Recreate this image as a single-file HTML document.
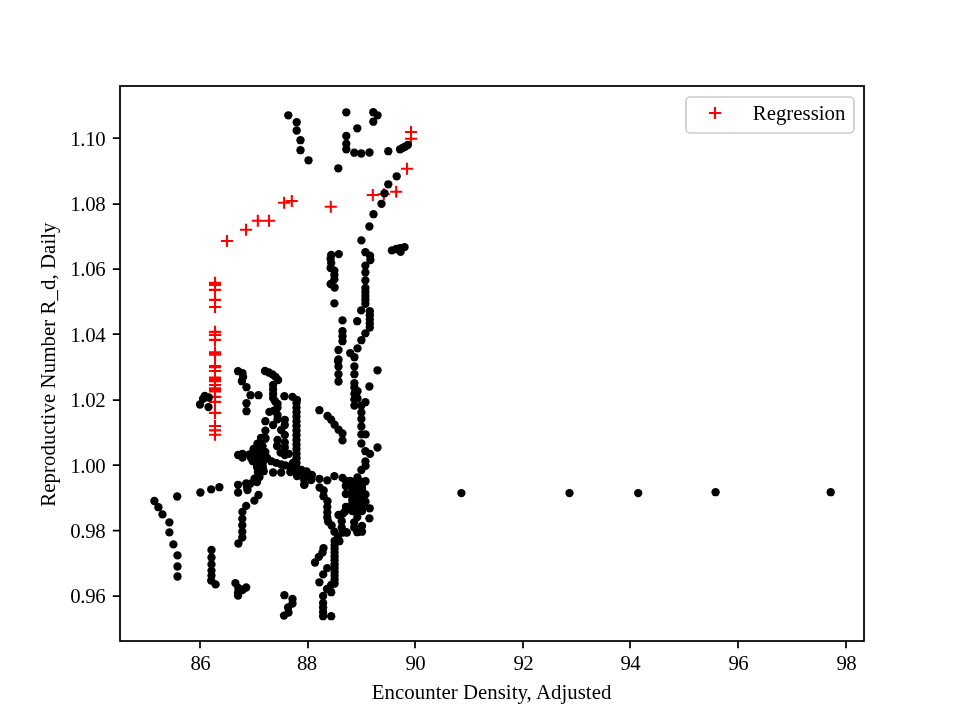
<!DOCTYPE html><html><head><meta charset="utf-8"><title>plot</title><style>html,body{margin:0;padding:0;background:#fff}svg{display:block}text{font-family:"Liberation Serif","DejaVu Serif",serif;font-size:20.83px;fill:#000}</style></head><body>
<svg width="960" height="720" viewBox="0 0 960 720">
<rect width="960" height="720" fill="#fff"/>
<g stroke="#f00" stroke-width="2.08" fill="none">
<path d="M404.95 132.0h12.1M411.0 125.95v12.1M404.95 138.8h12.1M411.0 132.75v12.1M400.95 168.8h12.1M407.0 162.75v12.1M390.15 191.7h12.1M396.2 185.65v12.1M377.75 194.2h12.1M383.8 188.15v12.1M366.75 195.0h12.1M372.8 188.95v12.1M324.75 206.8h12.1M330.8 200.75v12.1M285.75 201.0h12.1M291.8 194.95v12.1M278.05 202.8h12.1M284.1 196.75v12.1M262.95 220.8h12.1M269.0 214.75v12.1M251.75 220.8h12.1M257.8 214.75v12.1M239.95 229.7h12.1M246.0 223.65v12.1M220.95 241.0h12.1M227.0 234.95v12.1M208.95 282.9h12.1M215.0 276.85v12.1M208.95 284.9h12.1M215.0 278.85v12.1M208.95 289.9h12.1M215.0 283.85v12.1M208.95 299.9h12.1M215.0 293.85v12.1M208.95 307.0h12.1M215.0 300.95v12.1M208.95 331.9h12.1M215.0 325.85v12.1M208.95 334.9h12.1M215.0 328.85v12.1M208.95 339.9h12.1M215.0 333.85v12.1M208.95 352.2h12.1M215.0 346.15v12.1M208.95 353.5h12.1M215.0 347.45v12.1M208.95 354.8h12.1M215.0 348.75v12.1M208.95 366.0h12.1M215.0 359.95v12.1M208.95 367.2h12.1M215.0 361.15v12.1M208.95 371.0h12.1M215.0 364.95v12.1M208.95 377.5h12.1M215.0 371.45v12.1M208.95 379.5h12.1M215.0 373.45v12.1M208.95 381.2h12.1M215.0 375.15v12.1M208.95 385.0h12.1M215.0 378.95v12.1M208.95 388.2h12.1M215.0 382.15v12.1M208.95 390.0h12.1M215.0 383.95v12.1M208.95 391.5h12.1M215.0 385.45v12.1M208.95 396.9h12.1M215.0 390.85v12.1M208.95 401.9h12.1M215.0 395.85v12.1M208.95 412.9h12.1M215.0 406.85v12.1M208.95 426.0h12.1M215.0 419.95v12.1M208.95 430.4h12.1M215.0 424.35v12.1M208.95 434.8h12.1M215.0 428.70v12.1"/>
</g>
<g fill="#000">
<circle cx="288.3" cy="115.3" r="4.17"/>
<circle cx="296.7" cy="122.2" r="4.17"/>
<circle cx="296.7" cy="130.5" r="4.17"/>
<circle cx="300.5" cy="140.2" r="4.17"/>
<circle cx="300.5" cy="150.2" r="4.17"/>
<circle cx="308.5" cy="160.3" r="4.17"/>
<circle cx="338.3" cy="168.3" r="4.17"/>
<circle cx="346.3" cy="112.3" r="4.17"/>
<circle cx="346.3" cy="136.0" r="4.17"/>
<circle cx="346.3" cy="143.7" r="4.17"/>
<circle cx="346.3" cy="149.3" r="4.17"/>
<circle cx="354.3" cy="152.7" r="4.17"/>
<circle cx="361.3" cy="153.5" r="4.17"/>
<circle cx="369.5" cy="152.5" r="4.17"/>
<circle cx="357.3" cy="128.3" r="4.17"/>
<circle cx="373.3" cy="112.2" r="4.17"/>
<circle cx="377.5" cy="115.3" r="4.17"/>
<circle cx="373.3" cy="121.7" r="4.17"/>
<circle cx="388.3" cy="151.2" r="4.17"/>
<circle cx="400.0" cy="149.3" r="4.17"/>
<circle cx="402.5" cy="148.0" r="4.17"/>
<circle cx="405.0" cy="146.7" r="4.17"/>
<circle cx="407.8" cy="145.0" r="4.17"/>
<circle cx="396.7" cy="176.3" r="4.17"/>
<circle cx="388.3" cy="184.3" r="4.17"/>
<circle cx="384.5" cy="193.3" r="4.17"/>
<circle cx="381.5" cy="203.8" r="4.17"/>
<circle cx="373.5" cy="214.2" r="4.17"/>
<circle cx="369.4" cy="226.5" r="4.17"/>
<circle cx="361.4" cy="240.4" r="4.17"/>
<circle cx="365.4" cy="252.2" r="4.17"/>
<circle cx="370.0" cy="255.6" r="4.17"/>
<circle cx="370.4" cy="260.0" r="4.17"/>
<circle cx="365.4" cy="265.6" r="4.17"/>
<circle cx="365.4" cy="272.5" r="4.17"/>
<circle cx="365.4" cy="280.4" r="4.17"/>
<circle cx="365.4" cy="288.0" r="4.17"/>
<circle cx="365.4" cy="291.9" r="4.17"/>
<circle cx="365.4" cy="295.9" r="4.17"/>
<circle cx="365.4" cy="299.8" r="4.17"/>
<circle cx="365.4" cy="303.8" r="4.17"/>
<circle cx="338.8" cy="254.1" r="4.17"/>
<circle cx="331.2" cy="255.0" r="4.17"/>
<circle cx="330.6" cy="258.8" r="4.17"/>
<circle cx="331.2" cy="263.1" r="4.17"/>
<circle cx="330.6" cy="268.1" r="4.17"/>
<circle cx="334.4" cy="270.6" r="4.17"/>
<circle cx="334.4" cy="275.0" r="4.17"/>
<circle cx="334.4" cy="279.4" r="4.17"/>
<circle cx="330.6" cy="284.0" r="4.17"/>
<circle cx="334.6" cy="287.5" r="4.17"/>
<circle cx="391.9" cy="250.4" r="4.17"/>
<circle cx="396.2" cy="249.0" r="4.17"/>
<circle cx="400.0" cy="248.1" r="4.17"/>
<circle cx="404.6" cy="247.1" r="4.17"/>
<circle cx="400.6" cy="251.9" r="4.17"/>
<circle cx="334.4" cy="303.4" r="4.17"/>
<circle cx="361.2" cy="310.4" r="4.17"/>
<circle cx="369.8" cy="311.2" r="4.17"/>
<circle cx="369.8" cy="315.3" r="4.17"/>
<circle cx="369.8" cy="319.4" r="4.17"/>
<circle cx="369.8" cy="323.4" r="4.17"/>
<circle cx="369.8" cy="327.5" r="4.17"/>
<circle cx="365.4" cy="333.4" r="4.17"/>
<circle cx="361.4" cy="340.2" r="4.17"/>
<circle cx="357.5" cy="348.4" r="4.17"/>
<circle cx="350.2" cy="353.1" r="4.17"/>
<circle cx="354.4" cy="357.2" r="4.17"/>
<circle cx="354.4" cy="366.5" r="4.17"/>
<circle cx="354.4" cy="374.2" r="4.17"/>
<circle cx="357.2" cy="321.2" r="4.17"/>
<circle cx="342.5" cy="320.4" r="4.17"/>
<circle cx="342.5" cy="331.2" r="4.17"/>
<circle cx="342.5" cy="336.2" r="4.17"/>
<circle cx="342.5" cy="341.2" r="4.17"/>
<circle cx="338.5" cy="350.0" r="4.17"/>
<circle cx="338.5" cy="359.4" r="4.17"/>
<circle cx="338.5" cy="366.5" r="4.17"/>
<circle cx="338.5" cy="374.2" r="4.17"/>
<circle cx="338.5" cy="381.5" r="4.17"/>
<circle cx="377.5" cy="370.3" r="4.17"/>
<circle cx="354.4" cy="383.1" r="4.17"/>
<circle cx="354.4" cy="387.5" r="4.17"/>
<circle cx="357.5" cy="391.2" r="4.17"/>
<circle cx="354.4" cy="393.8" r="4.17"/>
<circle cx="357.5" cy="398.5" r="4.17"/>
<circle cx="354.4" cy="399.4" r="4.17"/>
<circle cx="354.4" cy="405.6" r="4.17"/>
<circle cx="365.4" cy="402.2" r="4.17"/>
<circle cx="361.4" cy="405.6" r="4.17"/>
<circle cx="361.4" cy="412.5" r="4.17"/>
<circle cx="361.4" cy="419.0" r="4.17"/>
<circle cx="361.4" cy="426.5" r="4.17"/>
<circle cx="361.4" cy="434.4" r="4.17"/>
<circle cx="365.6" cy="434.4" r="4.17"/>
<circle cx="361.4" cy="443.5" r="4.17"/>
<circle cx="365.4" cy="451.2" r="4.17"/>
<circle cx="370.0" cy="453.9" r="4.17"/>
<circle cx="377.5" cy="447.5" r="4.17"/>
<circle cx="369.4" cy="386.5" r="4.17"/>
<circle cx="319.4" cy="410.2" r="4.17"/>
<circle cx="327.5" cy="416.0" r="4.17"/>
<circle cx="331.2" cy="419.7" r="4.17"/>
<circle cx="334.6" cy="424.7" r="4.17"/>
<circle cx="338.6" cy="429.7" r="4.17"/>
<circle cx="342.5" cy="433.5" r="4.17"/>
<circle cx="342.5" cy="440.4" r="4.17"/>
<circle cx="365.4" cy="461.5" r="4.17"/>
<circle cx="365.6" cy="465.9" r="4.17"/>
<circle cx="361.4" cy="470.0" r="4.17"/>
<circle cx="357.5" cy="477.5" r="4.17"/>
<circle cx="365.5" cy="481.2" r="4.17"/>
<circle cx="334.4" cy="476.1" r="4.17"/>
<circle cx="327.3" cy="480.3" r="4.17"/>
<circle cx="319.4" cy="478.8" r="4.17"/>
<circle cx="311.9" cy="475.0" r="4.17"/>
<circle cx="311.2" cy="480.0" r="4.17"/>
<circle cx="307.3" cy="475.0" r="4.17"/>
<circle cx="301.5" cy="470.0" r="4.17"/>
<circle cx="304.2" cy="484.8" r="4.17"/>
<circle cx="342.6" cy="477.9" r="4.17"/>
<circle cx="346.2" cy="481.2" r="4.17"/>
<circle cx="350.2" cy="481.0" r="4.17"/>
<circle cx="345.8" cy="486.0" r="4.17"/>
<circle cx="345.8" cy="494.0" r="4.17"/>
<circle cx="365.5" cy="494.4" r="4.17"/>
<circle cx="365.5" cy="501.8" r="4.17"/>
<circle cx="369.7" cy="508.3" r="4.17"/>
<circle cx="361.4" cy="510.4" r="4.17"/>
<circle cx="369.4" cy="518.4" r="4.17"/>
<circle cx="346.0" cy="506.8" r="4.17"/>
<circle cx="338.5" cy="515.0" r="4.17"/>
<circle cx="342.6" cy="513.9" r="4.17"/>
<circle cx="319.6" cy="487.5" r="4.17"/>
<circle cx="323.7" cy="490.5" r="4.17"/>
<circle cx="323.5" cy="496.2" r="4.17"/>
<circle cx="327.5" cy="501.2" r="4.17"/>
<circle cx="327.3" cy="506.9" r="4.17"/>
<circle cx="327.3" cy="512.5" r="4.17"/>
<circle cx="327.3" cy="517.5" r="4.17"/>
<circle cx="328.1" cy="521.5" r="4.17"/>
<circle cx="331.6" cy="525.5" r="4.17"/>
<circle cx="334.4" cy="531.7" r="4.17"/>
<circle cx="338.0" cy="536.9" r="4.17"/>
<circle cx="341.7" cy="521.2" r="4.17"/>
<circle cx="341.7" cy="527.5" r="4.17"/>
<circle cx="345.8" cy="532.2" r="4.17"/>
<circle cx="357.3" cy="517.1" r="4.17"/>
<circle cx="354.2" cy="522.3" r="4.17"/>
<circle cx="354.2" cy="527.5" r="4.17"/>
<circle cx="362.0" cy="526.0" r="4.17"/>
<circle cx="362.0" cy="531.7" r="4.17"/>
<circle cx="357.3" cy="532.2" r="4.17"/>
<circle cx="352.3" cy="482.0" r="4.17"/>
<circle cx="352.3" cy="485.6" r="4.17"/>
<circle cx="352.3" cy="489.2" r="4.17"/>
<circle cx="352.3" cy="492.9" r="4.17"/>
<circle cx="352.3" cy="496.5" r="4.17"/>
<circle cx="352.3" cy="500.1" r="4.17"/>
<circle cx="352.3" cy="503.8" r="4.17"/>
<circle cx="352.3" cy="507.4" r="4.17"/>
<circle cx="352.3" cy="511.0" r="4.17"/>
<circle cx="355.5" cy="482.0" r="4.17"/>
<circle cx="355.5" cy="485.6" r="4.17"/>
<circle cx="355.5" cy="489.2" r="4.17"/>
<circle cx="355.5" cy="492.9" r="4.17"/>
<circle cx="355.5" cy="496.5" r="4.17"/>
<circle cx="355.5" cy="500.1" r="4.17"/>
<circle cx="355.5" cy="503.8" r="4.17"/>
<circle cx="355.5" cy="507.4" r="4.17"/>
<circle cx="355.5" cy="511.0" r="4.17"/>
<circle cx="358.7" cy="482.0" r="4.17"/>
<circle cx="358.7" cy="485.6" r="4.17"/>
<circle cx="358.7" cy="489.2" r="4.17"/>
<circle cx="358.7" cy="492.9" r="4.17"/>
<circle cx="358.7" cy="496.5" r="4.17"/>
<circle cx="358.7" cy="500.1" r="4.17"/>
<circle cx="358.7" cy="503.8" r="4.17"/>
<circle cx="358.7" cy="507.4" r="4.17"/>
<circle cx="358.7" cy="511.0" r="4.17"/>
<circle cx="362.0" cy="482.0" r="4.17"/>
<circle cx="362.0" cy="485.6" r="4.17"/>
<circle cx="362.0" cy="489.2" r="4.17"/>
<circle cx="362.0" cy="492.9" r="4.17"/>
<circle cx="362.0" cy="496.5" r="4.17"/>
<circle cx="362.0" cy="500.1" r="4.17"/>
<circle cx="362.0" cy="503.8" r="4.17"/>
<circle cx="362.0" cy="507.4" r="4.17"/>
<circle cx="362.0" cy="511.0" r="4.17"/>
<circle cx="334.6" cy="541.0" r="4.17"/>
<circle cx="334.6" cy="544.9" r="4.17"/>
<circle cx="334.6" cy="548.7" r="4.17"/>
<circle cx="334.6" cy="552.6" r="4.17"/>
<circle cx="334.6" cy="556.5" r="4.17"/>
<circle cx="334.6" cy="560.3" r="4.17"/>
<circle cx="334.6" cy="564.2" r="4.17"/>
<circle cx="334.6" cy="568.0" r="4.17"/>
<circle cx="334.6" cy="571.9" r="4.17"/>
<circle cx="334.6" cy="575.8" r="4.17"/>
<circle cx="334.6" cy="579.6" r="4.17"/>
<circle cx="334.6" cy="583.5" r="4.17"/>
<circle cx="339.4" cy="541.2" r="4.17"/>
<circle cx="342.5" cy="532.5" r="4.17"/>
<circle cx="346.9" cy="532.5" r="4.17"/>
<circle cx="323.5" cy="548.1" r="4.17"/>
<circle cx="322.5" cy="552.5" r="4.17"/>
<circle cx="318.8" cy="556.9" r="4.17"/>
<circle cx="315.0" cy="562.5" r="4.17"/>
<circle cx="327.2" cy="568.1" r="4.17"/>
<circle cx="323.2" cy="574.4" r="4.17"/>
<circle cx="319.4" cy="582.3" r="4.17"/>
<circle cx="331.2" cy="585.0" r="4.17"/>
<circle cx="327.0" cy="589.0" r="4.17"/>
<circle cx="331.2" cy="592.2" r="4.17"/>
<circle cx="323.1" cy="596.0" r="4.17"/>
<circle cx="323.1" cy="603.0" r="4.17"/>
<circle cx="323.1" cy="607.5" r="4.17"/>
<circle cx="323.1" cy="611.9" r="4.17"/>
<circle cx="323.1" cy="616.2" r="4.17"/>
<circle cx="331.2" cy="616.2" r="4.17"/>
<circle cx="284.4" cy="595.2" r="4.17"/>
<circle cx="292.5" cy="599.0" r="4.17"/>
<circle cx="292.5" cy="603.5" r="4.17"/>
<circle cx="288.1" cy="607.5" r="4.17"/>
<circle cx="288.5" cy="612.5" r="4.17"/>
<circle cx="284.0" cy="615.6" r="4.17"/>
<circle cx="204.8" cy="396.0" r="4.17"/>
<circle cx="208.8" cy="397.5" r="4.17"/>
<circle cx="203.1" cy="398.8" r="4.17"/>
<circle cx="200.0" cy="404.5" r="4.17"/>
<circle cx="208.5" cy="407.1" r="4.17"/>
<circle cx="238.1" cy="371.2" r="4.17"/>
<circle cx="242.5" cy="373.1" r="4.17"/>
<circle cx="243.1" cy="376.9" r="4.17"/>
<circle cx="241.9" cy="381.2" r="4.17"/>
<circle cx="246.5" cy="387.2" r="4.17"/>
<circle cx="250.5" cy="395.2" r="4.17"/>
<circle cx="258.5" cy="395.2" r="4.17"/>
<circle cx="246.5" cy="403.2" r="4.17"/>
<circle cx="246.5" cy="411.2" r="4.17"/>
<circle cx="265.0" cy="371.0" r="4.17"/>
<circle cx="268.8" cy="372.5" r="4.17"/>
<circle cx="272.5" cy="374.4" r="4.17"/>
<circle cx="275.6" cy="376.9" r="4.17"/>
<circle cx="278.1" cy="380.0" r="4.17"/>
<circle cx="273.1" cy="385.0" r="4.17"/>
<circle cx="273.1" cy="389.4" r="4.17"/>
<circle cx="273.1" cy="393.8" r="4.17"/>
<circle cx="273.1" cy="398.1" r="4.17"/>
<circle cx="275.0" cy="401.2" r="4.17"/>
<circle cx="277.5" cy="403.8" r="4.17"/>
<circle cx="277.5" cy="407.5" r="4.17"/>
<circle cx="269.4" cy="411.9" r="4.17"/>
<circle cx="273.8" cy="410.6" r="4.17"/>
<circle cx="277.5" cy="415.0" r="4.17"/>
<circle cx="277.5" cy="419.4" r="4.17"/>
<circle cx="265.4" cy="421.2" r="4.17"/>
<circle cx="273.1" cy="425.0" r="4.17"/>
<circle cx="265.4" cy="430.6" r="4.17"/>
<circle cx="265.4" cy="438.0" r="4.17"/>
<circle cx="261.2" cy="438.1" r="4.17"/>
<circle cx="257.5" cy="443.8" r="4.17"/>
<circle cx="262.5" cy="446.2" r="4.17"/>
<circle cx="253.8" cy="448.8" r="4.17"/>
<circle cx="284.4" cy="396.2" r="4.17"/>
<circle cx="292.5" cy="396.9" r="4.17"/>
<circle cx="296.9" cy="399.8" r="4.17"/>
<circle cx="296.5" cy="403.0" r="4.17"/>
<circle cx="296.5" cy="407.6" r="4.17"/>
<circle cx="296.5" cy="412.2" r="4.17"/>
<circle cx="296.5" cy="416.8" r="4.17"/>
<circle cx="296.5" cy="421.4" r="4.17"/>
<circle cx="296.5" cy="426.0" r="4.17"/>
<circle cx="296.5" cy="430.6" r="4.17"/>
<circle cx="296.5" cy="435.2" r="4.17"/>
<circle cx="296.5" cy="439.9" r="4.17"/>
<circle cx="296.5" cy="444.5" r="4.17"/>
<circle cx="296.5" cy="449.1" r="4.17"/>
<circle cx="296.5" cy="453.7" r="4.17"/>
<circle cx="296.5" cy="458.3" r="4.17"/>
<circle cx="296.5" cy="462.9" r="4.17"/>
<circle cx="296.5" cy="467.5" r="4.17"/>
<circle cx="284.8" cy="419.8" r="4.17"/>
<circle cx="284.8" cy="425.0" r="4.17"/>
<circle cx="281.2" cy="430.0" r="4.17"/>
<circle cx="284.8" cy="435.0" r="4.17"/>
<circle cx="277.5" cy="440.0" r="4.17"/>
<circle cx="284.8" cy="442.5" r="4.17"/>
<circle cx="277.0" cy="446.0" r="4.17"/>
<circle cx="284.8" cy="447.5" r="4.17"/>
<circle cx="280.6" cy="452.5" r="4.17"/>
<circle cx="288.8" cy="453.8" r="4.17"/>
<circle cx="284.8" cy="455.0" r="4.17"/>
<circle cx="338.1" cy="361.2" r="4.17"/>
<circle cx="238.1" cy="455.0" r="4.17"/>
<circle cx="242.5" cy="453.8" r="4.17"/>
<circle cx="242.5" cy="457.5" r="4.17"/>
<circle cx="261.2" cy="437.8" r="4.17"/>
<circle cx="265.3" cy="438.7" r="4.17"/>
<circle cx="257.8" cy="443.7" r="4.17"/>
<circle cx="262.0" cy="446.2" r="4.17"/>
<circle cx="253.7" cy="449.5" r="4.17"/>
<circle cx="259.5" cy="451.2" r="4.17"/>
<circle cx="265.3" cy="452.0" r="4.17"/>
<circle cx="249.5" cy="454.5" r="4.17"/>
<circle cx="257.0" cy="456.2" r="4.17"/>
<circle cx="262.0" cy="457.0" r="4.17"/>
<circle cx="252.8" cy="461.2" r="4.17"/>
<circle cx="257.8" cy="462.0" r="4.17"/>
<circle cx="262.8" cy="462.8" r="4.17"/>
<circle cx="257.0" cy="467.0" r="4.17"/>
<circle cx="262.8" cy="467.0" r="4.17"/>
<circle cx="257.8" cy="472.0" r="4.17"/>
<circle cx="263.7" cy="471.2" r="4.17"/>
<circle cx="259.5" cy="477.0" r="4.17"/>
<circle cx="254.5" cy="478.7" r="4.17"/>
<circle cx="257.0" cy="482.0" r="4.17"/>
<circle cx="250.3" cy="483.7" r="4.17"/>
<circle cx="247.0" cy="487.0" r="4.17"/>
<circle cx="253.5" cy="457.5" r="4.17"/>
<circle cx="251.0" cy="458.0" r="4.17"/>
<circle cx="267.0" cy="457.8" r="4.17"/>
<circle cx="271.2" cy="461.2" r="4.17"/>
<circle cx="276.2" cy="462.8" r="4.17"/>
<circle cx="281.2" cy="464.5" r="4.17"/>
<circle cx="285.3" cy="465.3" r="4.17"/>
<circle cx="290.3" cy="466.5" r="4.17"/>
<circle cx="295.3" cy="469.5" r="4.17"/>
<circle cx="302.0" cy="471.2" r="4.17"/>
<circle cx="307.0" cy="473.7" r="4.17"/>
<circle cx="303.7" cy="478.7" r="4.17"/>
<circle cx="304.5" cy="484.5" r="4.17"/>
<circle cx="297.0" cy="476.0" r="4.17"/>
<circle cx="290.3" cy="472.0" r="4.17"/>
<circle cx="293.0" cy="463.0" r="4.17"/>
<circle cx="300.0" cy="474.5" r="4.17"/>
<circle cx="310.0" cy="475.0" r="4.17"/>
<circle cx="306.5" cy="471.5" r="4.17"/>
<circle cx="246.2" cy="483.5" r="4.17"/>
<circle cx="238.1" cy="484.8" r="4.17"/>
<circle cx="238.1" cy="492.5" r="4.17"/>
<circle cx="273.1" cy="472.5" r="4.17"/>
<circle cx="281.2" cy="472.5" r="4.17"/>
<circle cx="258.5" cy="495.0" r="4.17"/>
<circle cx="254.4" cy="500.6" r="4.17"/>
<circle cx="246.2" cy="505.9" r="4.17"/>
<circle cx="242.4" cy="511.9" r="4.17"/>
<circle cx="242.3" cy="518.8" r="4.17"/>
<circle cx="242.3" cy="525.3" r="4.17"/>
<circle cx="242.3" cy="531.7" r="4.17"/>
<circle cx="242.3" cy="537.5" r="4.17"/>
<circle cx="238.4" cy="543.5" r="4.17"/>
<circle cx="154.4" cy="501.0" r="4.17"/>
<circle cx="158.4" cy="507.2" r="4.17"/>
<circle cx="162.5" cy="514.4" r="4.17"/>
<circle cx="169.4" cy="522.4" r="4.17"/>
<circle cx="169.4" cy="532.4" r="4.17"/>
<circle cx="173.4" cy="544.4" r="4.17"/>
<circle cx="177.5" cy="555.4" r="4.17"/>
<circle cx="177.5" cy="566.5" r="4.17"/>
<circle cx="177.5" cy="576.5" r="4.17"/>
<circle cx="177.2" cy="496.5" r="4.17"/>
<circle cx="200.4" cy="492.5" r="4.17"/>
<circle cx="211.2" cy="489.4" r="4.17"/>
<circle cx="219.4" cy="487.2" r="4.17"/>
<circle cx="211.5" cy="550.0" r="4.17"/>
<circle cx="211.5" cy="557.5" r="4.17"/>
<circle cx="211.5" cy="564.4" r="4.17"/>
<circle cx="211.5" cy="570.6" r="4.17"/>
<circle cx="211.5" cy="575.6" r="4.17"/>
<circle cx="211.2" cy="580.6" r="4.17"/>
<circle cx="215.6" cy="584.4" r="4.17"/>
<circle cx="235.4" cy="583.1" r="4.17"/>
<circle cx="246.2" cy="587.5" r="4.17"/>
<circle cx="242.5" cy="590.0" r="4.17"/>
<circle cx="238.1" cy="592.5" r="4.17"/>
<circle cx="238.1" cy="595.6" r="4.17"/>
<circle cx="461.4" cy="493.1" r="4.17"/>
<circle cx="569.5" cy="493.1" r="4.17"/>
<circle cx="638.2" cy="493.1" r="4.17"/>
<circle cx="715.6" cy="492.2" r="4.17"/>
<circle cx="830.7" cy="492.2" r="4.17"/>
<circle cx="247.5" cy="490.0" r="4.17"/>
<circle cx="238.3" cy="588.0" r="4.17"/>
<circle cx="345.0" cy="511.5" r="4.17"/>
</g>
<rect x="120" y="86" width="744" height="555" fill="none" stroke="#000" stroke-width="1.75" stroke-linejoin="miter"/>
<path d="M200 641v7.2M308 641v7.2M415 641v7.2M523 641v7.2M630 641v7.2M738 641v7.2M846 641v7.2M120 596h-7.2M120 530.5h-7.2M120 465h-7.2M120 400h-7.2M120 334h-7.2M120 269h-7.2M120 204h-7.2M120 138h-7.2" stroke="#000" stroke-width="1.75" fill="none"/>
<text x="200.3" y="669.5" text-anchor="middle" letter-spacing="-0.5">86</text>
<text x="306.8" y="669.5" text-anchor="middle" letter-spacing="-0.5">88</text>
<text x="415.3" y="669.5" text-anchor="middle" letter-spacing="-0.5">90</text>
<text x="523.3" y="669.5" text-anchor="middle" letter-spacing="-0.5">92</text>
<text x="630.3" y="669.5" text-anchor="middle" letter-spacing="-0.5">94</text>
<text x="738.3" y="669.5" text-anchor="middle" letter-spacing="-0.5">96</text>
<text x="846.3" y="669.5" text-anchor="middle" letter-spacing="-0.5">98</text>
<text x="105.2" y="603.0" text-anchor="end" letter-spacing="-0.4">0.96</text>
<text x="105.2" y="538.0" text-anchor="end" letter-spacing="-0.4">0.98</text>
<text x="105.2" y="472.7" text-anchor="end" letter-spacing="-0.4">1.00</text>
<text x="105.2" y="407.0" text-anchor="end" letter-spacing="-0.4">1.02</text>
<text x="105.2" y="342.0" text-anchor="end" letter-spacing="-0.4">1.04</text>
<text x="105.2" y="276.0" text-anchor="end" letter-spacing="-0.4">1.06</text>
<text x="105.2" y="211.0" text-anchor="end" letter-spacing="-0.4">1.08</text>
<text x="105.2" y="146.0" text-anchor="end" letter-spacing="-0.4">1.10</text>
<text x="491.6" y="699" text-anchor="middle" letter-spacing="0.03">Encounter Density, Adjusted</text>
<text transform="translate(54.6,364.6) rotate(-90)" text-anchor="middle" letter-spacing="0.07">Reproductive Number R_d, Daily</text>
<rect x="686" y="97" width="168" height="36" rx="4.2" ry="4.2" fill="#fff" fill-opacity="0.8" stroke="#ccc" stroke-width="1.67"/>
<path d="M708.95 113h12.1M715 106.95v12.1" stroke="#f00" stroke-width="2.08" fill="none"/>
<text x="752.8" y="120">Regression</text>
</svg></body></html>
